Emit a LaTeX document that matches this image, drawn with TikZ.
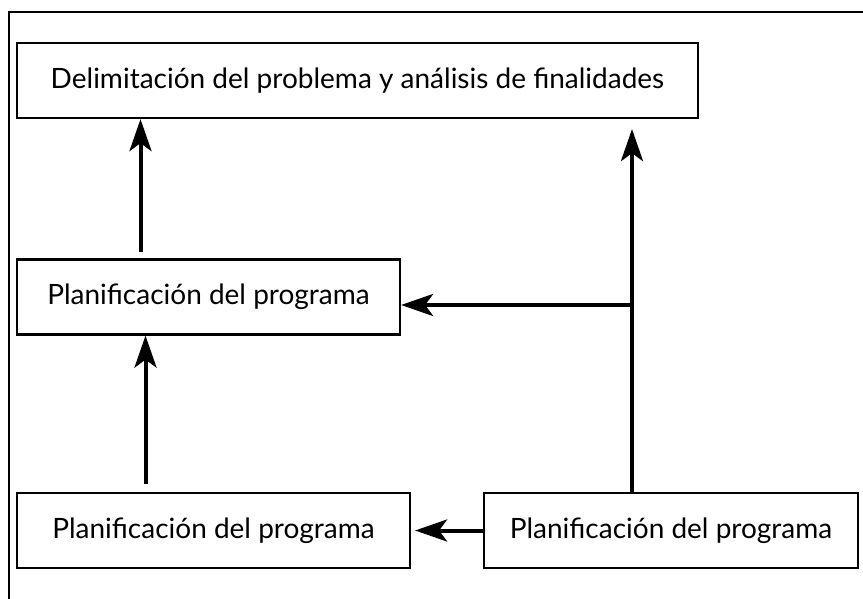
\documentclass[tikz,border=0pt]{standalone}
\usepackage{fontspec}
\setmainfont{Lato}
\usetikzlibrary{arrows.meta}
\begin{document}
\begin{tikzpicture}[x=0.5pt,y=-0.5pt,
    box/.style={draw,line width=1.1pt,inner sep=0pt,minimum height=37.5pt,
      font=\fontsize{14pt}{16pt}\selectfont},
    arr/.style={-{Stealth[length=16pt,width=11pt,inset=4pt]},line width=2pt}]
    \useasboundingbox (0,0) rectangle (863,599);
    % Frame
    \draw[line width=0.8pt] (863,12) -- (9,12) -- (9,599);
    % Boxes
    \node[box,minimum width=340.5pt] (top) at (357.5,80.5) {Delimitación del problema y análisis de finalidades};
    \node[box,minimum width=191.5pt] (mid) at (208.5,297) {Planificación del programa};
    \node[box,minimum width=196.5pt] (bl) at (213.5,530.5) {Planificación del programa};
    \node[box,minimum width=187pt] (br) at (671,530.5) {Planificación del programa};
    % Arrows
    \coordinate (j) at (632,305);
    \draw[arr] ([xshift=-34pt,yshift=3pt]mid.north) -- ([xshift=-34pt]mid.north |- top.south);
    \draw[arr] ([xshift=-34pt,yshift=4pt]bl.north) -- ([xshift=-34pt]bl.north |- mid.south);
    \draw[arr] ([xshift=-19.5pt]br.north) -- ([xshift=-19.5pt,yshift=-5pt]br.north |- top.south);
    \draw[arr] (j) -- (j -| mid.east);
    \draw[arr] (br.west) -- ([xshift=2pt]bl.east);
\end{tikzpicture}
\end{document}
